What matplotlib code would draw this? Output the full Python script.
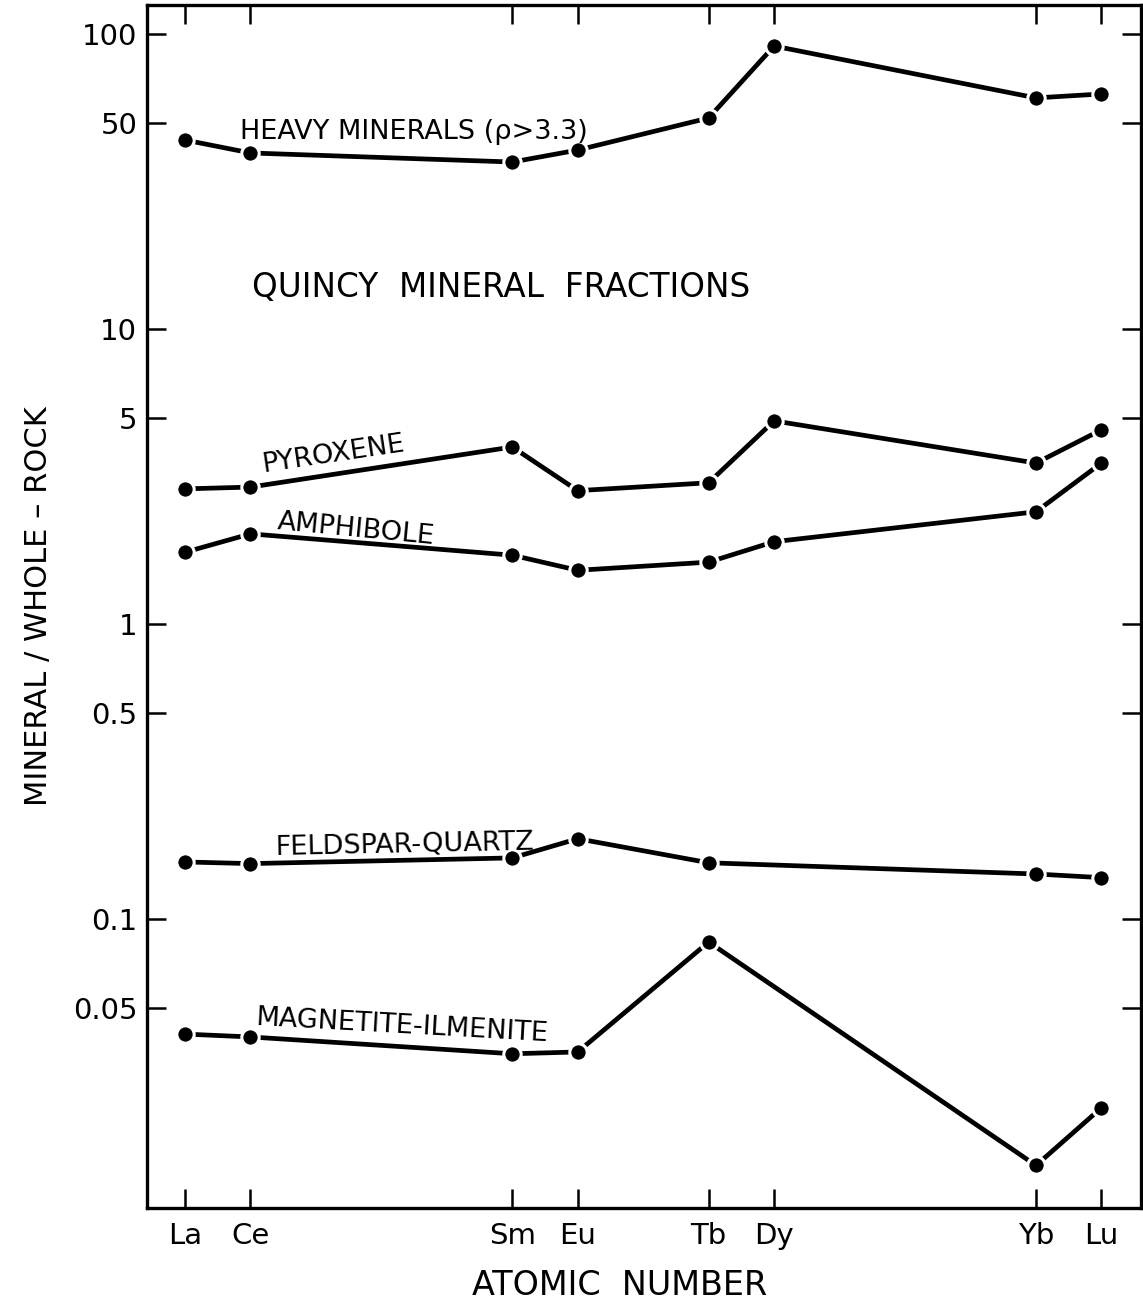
import matplotlib
matplotlib.use("Agg")
import matplotlib.pyplot as plt
import numpy as np

# Rare-earth elements and their atomic numbers (x positions)
elements = ["La", "Ce", "Sm", "Eu", "Tb", "Dy", "Yb", "Lu"]
atomic_numbers = [57, 58, 62, 63, 65, 66, 70, 71]

# Mineral / whole-rock ratios for each fraction
heavy_x = [57, 58, 62, 63, 65, 66, 70, 71]
heavy_y = [43.7, 39.5, 36.8, 40.4, 51.9, 91.0, 60.7, 62.6]

pyroxene_x = [57, 58, 62, 63, 65, 66, 70, 71]
pyroxene_y = [2.87, 2.91, 3.98, 2.83, 3.01, 4.88, 3.51, 4.55]

amphibole_x = [57, 58, 62, 63, 65, 66, 70, 71]
amphibole_y = [1.75, 2.02, 1.71, 1.52, 1.62, 1.90, 2.40, 3.51]

feldspar_x = [57, 58, 62, 63, 65, 70, 71]
feldspar_y = [0.156, 0.154, 0.161, 0.187, 0.155, 0.142, 0.138]

magnetite_x = [57, 58, 62, 63, 65, 70, 71]
magnetite_y = [0.0407, 0.0398, 0.0349, 0.0354, 0.0835, 0.0146, 0.0229]

ytick_values = [100, 50, 10, 5, 1, 0.5, 0.1, 0.05]
ytick_labels = ["100", "50", "10", "5", "1", "0.5", "0.1", "0.05"]

plt.rcParams["font.family"] = ["DejaVu Sans"]

fig = plt.figure(figsize=(11.43, 13.04), dpi=100)
ax = fig.add_axes([0.1286, 0.0736, 0.8694, 0.9226])

line_kw = dict(color="black", lw=3.4, marker="o", markersize=12.5,
               markerfacecolor="black", markeredgecolor="white",
               markeredgewidth=2.2, solid_capstyle="butt")
for xs, ys in [(heavy_x, heavy_y), (pyroxene_x, pyroxene_y),
               (amphibole_x, amphibole_y), (feldspar_x, feldspar_y),
               (magnetite_x, magnetite_y)]:
    ax.plot(xs, ys, **line_kw)

ax.set_yscale("log")
ax.set_xlim(56.42, 71.6)
ax.set_ylim(0.01047, 125.4)

ax.set_xticks(atomic_numbers)
ax.set_xticklabels(elements)
ax.set_yticks(ytick_values)
ax.set_yticklabels(ytick_labels)
ax.yaxis.set_minor_locator(matplotlib.ticker.NullLocator())
ax.xaxis.set_minor_locator(matplotlib.ticker.NullLocator())

ax.tick_params(axis="both", which="major", direction="in", length=14,
               width=1.8, top=True, right=True, labelsize=21, color="black")
ax.tick_params(axis="x", pad=10)
ax.tick_params(axis="y", pad=7)
for sp in ax.spines.values():
    sp.set_linewidth(2.4)

ax.set_xlabel("ATOMIC  NUMBER", fontsize=24)
ax.xaxis.set_label_coords(0.476, -0.051)
ax.set_ylabel("MINERAL / WHOLE \u2013 ROCK", fontsize=22, labelpad=14)

# Curve labels
txt = dict(fontsize=19.5, color="black", ha="left", va="center",
           rotation_mode="anchor")
ax.text(57.84, 46.5, "HEAVY MINERALS (\u03c1>3.3)", **txt)
ax.text(58.18, 3.45, "PYROXENE", rotation=8.5, **txt)
ax.text(58.42, 2.22, "AMPHIBOLE", rotation=-5.5, **txt)
ax.text(58.38, 0.174, "FELDSPAR-QUARTZ", rotation=1.2, **txt)
ax.text(58.08, 0.0462, "MAGNETITE-ILMENITE", rotation=-3.2, **txt)

ax.text(58.02, 13.8, "QUINCY  MINERAL  FRACTIONS", fontsize=23.5,
        ha="left", va="center")

fig.savefig("out.png", dpi=100)
